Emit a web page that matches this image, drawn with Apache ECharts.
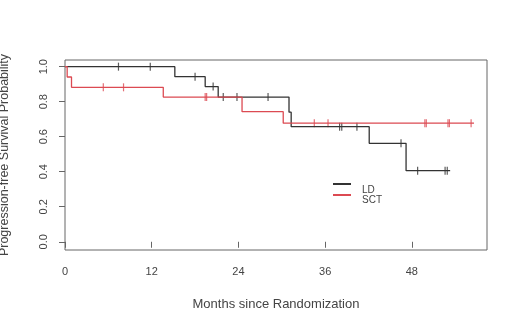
<!DOCTYPE html>
<html>
<head>
<meta charset="utf-8">
<script src="https://cdn.jsdelivr.net/npm/echarts@6/dist/echarts.min.js"></script>
<style>
  html, body { margin: 0; padding: 0; background: #fff; }
  #chart { width: 520px; height: 325px; }
</style>
</head>
<body>
<div id="chart"></div>
<script>
// Kaplan-Meier steps (time in months, survival after the event)
const ldTimes = [0, 15.2, 19.4, 21.2, 31.0, 31.3, 42.1, 47.2, 53.3];
const ldSurv = [1.0, 0.943, 0.886, 0.826, 0.74, 0.657, 0.562, 0.406, 0.406];
const ldCensor = [7.4, 11.8, 18.0, 20.5, 21.9, 23.8, 28.1, 38.0, 38.3, 40.4, 46.5, 48.8, 52.6, 52.9];

const sctTimes = [0, 0.3, 0.9, 13.6, 24.5, 30.2, 56.6];
const sctSurv = [1.0, 0.941, 0.882, 0.826, 0.743, 0.677, 0.677];
const sctCensor = [5.3, 8.1, 19.4, 19.6, 34.5, 36.4, 49.8, 50.0, 53.0, 53.2, 56.2];

const xTicks = [0, 12, 24, 36, 48];
const yTicks = [0, 0.2, 0.4, 0.6, 0.8, 1.0];
const groups = ['LD', 'SCT'];

const LD_COLOR = '#333333';
const SCT_COLOR = '#dc4a52';

function survAt(times, surv, t) {
  let s = surv[0];
  for (let i = 0; i < times.length; i++) if (times[i] <= t) s = surv[i];
  return s;
}
const pairs = (ts, ss) => ts.map((t, i) => [t, ss[i]]);
const marks = (cs, ts, ss) => cs.map(t => [t, survAt(ts, ss, t)]);

const chart = echarts.init(document.getElementById('chart'), null, { renderer: 'canvas' });
const txt = '#444';
const font = 'Liberation Sans, Arial, sans-serif';

// legend drawn by hand: R-style, line key with label offset below
const legendItems = [];
[LD_COLOR, SCT_COLOR].forEach((c, i) => {
  legendItems.push({ type: 'line', shape: { x1: 333, y1: 184 + i * 11, x2: 351, y2: 184 + i * 11 },
    style: { stroke: c, lineWidth: 2 } });
  legendItems.push({ type: 'text', x: 362, y: 190 + i * 10.5,
    style: { text: groups[i], fill: txt, font: '10px ' + font, textVerticalAlign: 'middle' } });
});

chart.setOption({
  animation: false,
  backgroundColor: '#fff',
  textStyle: { fontFamily: font },
  grid: { left: 65, right: 33, top: 60, bottom: 75, show: true, borderColor: '#666', borderWidth: 1,
    outerBoundsMode: 'none', containLabel: false },
  graphic: legendItems,
  xAxis: {
    type: 'value', min: 0, max: 58.4,
    name: 'Months since Randomization', nameLocation: 'middle', nameGap: 48,
    nameTextStyle: { color: txt, fontSize: 13 },
    axisLine: { show: false },
    splitLine: { show: false },
    axisTick: { show: true, length: 6, lineStyle: { color: '#666' }, customValues: xTicks },
    axisLabel: { color: txt, fontSize: 11, margin: 16, customValues: xTicks }
  },
  yAxis: {
    type: 'value', min: -0.047, max: 1.038,
    name: 'Progression-free Survival Probability', nameLocation: 'middle', nameGap: 54, nameRotate: 90,
    nameTextStyle: { color: txt, fontSize: 12.5 },
    axisLine: { show: false },
    splitLine: { show: false },
    axisTick: { show: true, length: 6, lineStyle: { color: '#666' }, customValues: yTicks },
    axisLabel: { color: txt, fontSize: 11, margin: 16, rotate: 90, customValues: yTicks,
      formatter: v => v.toFixed(1) }
  },
  series: [
    { name: 'LD', type: 'line', step: 'end', symbol: 'none', data: pairs(ldTimes, ldSurv),
      lineStyle: { color: LD_COLOR, width: 1.3 }, itemStyle: { color: LD_COLOR } },
    { name: 'SCT', type: 'line', step: 'end', symbol: 'none', data: pairs(sctTimes, sctSurv),
      lineStyle: { color: SCT_COLOR, width: 1.3 }, itemStyle: { color: SCT_COLOR } },
    { name: 'LD', type: 'scatter', symbol: 'rect', symbolSize: [1.2, 8],
      data: marks(ldCensor, ldTimes, ldSurv), itemStyle: { color: LD_COLOR } },
    { name: 'SCT', type: 'scatter', symbol: 'rect', symbolSize: [1.2, 8],
      data: marks(sctCensor, sctTimes, sctSurv), itemStyle: { color: SCT_COLOR } }
  ]
});
</script>
</body>
</html>
